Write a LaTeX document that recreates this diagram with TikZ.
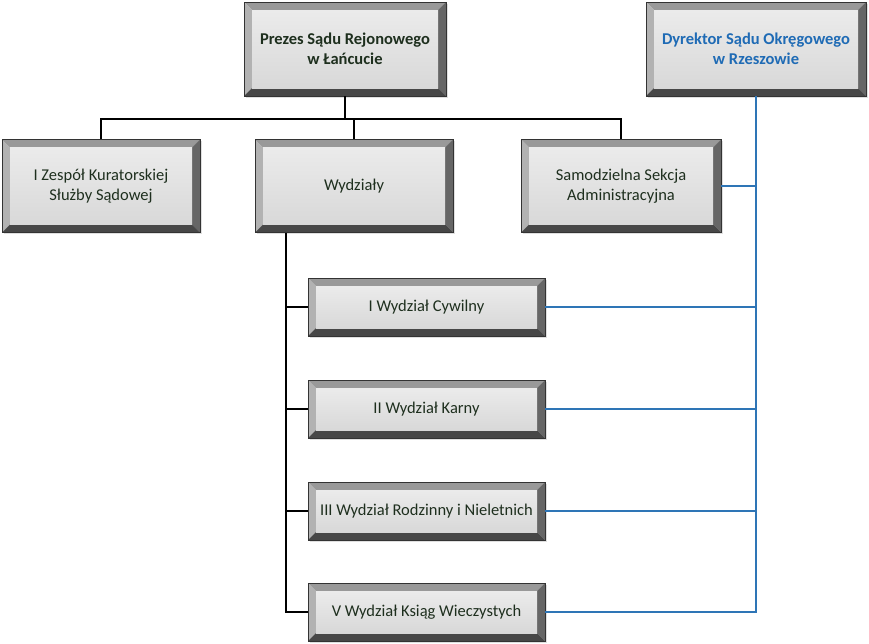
\documentclass[tikz,border=0pt]{standalone}
\usepackage{fontspec}
\setmainfont{Carlito}
\usetikzlibrary{shadows}
\definecolor{txt}{HTML}{1E2F1E}
\definecolor{bluetxt}{HTML}{1F6BB5}
\definecolor{blueln}{HTML}{2E75B6}
\definecolor{face}{HTML}{E6E6E6}
\newcommand{\bw}{8pt}
\tikzset{
  bevel/.style={draw=black!80, line width=0.7pt, fill=face, inner sep=0pt, align=center,
    text=txt, font=\fontsize{16.5}{19.5}\selectfont,
    drop shadow={shadow xshift=1.5pt, shadow yshift=-1.5pt, opacity=0.25},
    path picture={
      \fill[black!40] (path picture bounding box.north west) -- (path picture bounding box.north east)
        -- ([xshift=-\bw,yshift=-\bw]path picture bounding box.north east)
        -- ([xshift=\bw,yshift=-\bw]path picture bounding box.north west) -- cycle;
      \fill[black!30] (path picture bounding box.north west) -- (path picture bounding box.south west)
        -- ([xshift=\bw,yshift=\bw]path picture bounding box.south west)
        -- ([xshift=\bw,yshift=-\bw]path picture bounding box.north west) -- cycle;
      \fill[black!60] (path picture bounding box.north east) -- (path picture bounding box.south east)
        -- ([xshift=-\bw,yshift=\bw]path picture bounding box.south east)
        -- ([xshift=-\bw,yshift=-\bw]path picture bounding box.north east) -- cycle;
      \fill[black!72] (path picture bounding box.south west) -- (path picture bounding box.south east)
        -- ([xshift=-\bw,yshift=\bw]path picture bounding box.south east)
        -- ([xshift=\bw,yshift=\bw]path picture bounding box.south west) -- cycle;
      \shade[top color=face!80!white, bottom color=face!94!black]
        ([xshift=\bw,yshift=-\bw]path picture bounding box.north west) rectangle
        ([xshift=-\bw,yshift=\bw]path picture bounding box.south east);
    }},
  big/.style={bevel, minimum height=94pt},
  mid/.style={bevel, minimum height=93pt},
  small/.style={bevel, minimum height=58pt, minimum width=237pt},
  blk/.style={draw=black, line width=1.2pt},
  blu/.style={draw=blueln, line width=1.2pt}
}
\begin{document}
\begin{tikzpicture}[x=1pt,y=-1pt]
\useasboundingbox (0,0) rectangle (869,643);
\node[big, minimum width=202pt, font=\bfseries\fontsize{16.5}{19.5}\selectfont] (prezes) at (345,49) {Prezes Sądu Rejonowego\\w Łańcucie};
\node[big, minimum width=220pt, text=bluetxt, font=\bfseries\fontsize{16.5}{19.5}\selectfont] (dyr) at (756,49) {Dyrektor Sądu Okręgowego\\w Rzeszowie};
\node[mid, minimum width=198pt] (kur) at (101,186) {I Zespół Kuratorskiej\\Służby Sądowej};
\node[mid, minimum width=198pt] (wyd) at (354,186) {Wydziały};
\node[mid, minimum width=200pt] (sam) at (621,186) {Samodzielna Sekcja\\Administracyjna};
\node[small] (w1) at (426.5,307) {I Wydział Cywilny};
\node[small] (w2) at (426.5,409) {II Wydział Karny};
\node[small] (w3) at (426.5,511) {III Wydział Rodzinny i Nieletnich};
\node[small] (w4) at (426.5,612) {V Wydział Ksiąg Wieczystych};
\coordinate (bus) at (345,119);
\coordinate (wl) at (286,233);
% black connectors
\draw[blk] (prezes.south) -- (prezes.south |- bus);
\draw[blk] (kur.north) -- (kur.north |- bus) -- (sam.north |- bus) -- (sam.north);
\draw[blk] (wyd.north) -- (wyd.north |- bus);
\draw[blk] (wl) -- (wl |- w4) -- (w4.west);
\draw[blk] (w1.west) -- (w1.west -| wl);
\draw[blk] (w2.west) -- (w2.west -| wl);
\draw[blk] (w3.west) -- (w3.west -| wl);
% blue connectors
\draw[blu] (dyr.south) -- (dyr.south |- w4) -- (w4.east);
\draw[blu] (sam.east) -- (sam.east -| dyr.south);
\draw[blu] (w1.east) -- (w1.east -| dyr.south);
\draw[blu] (w2.east) -- (w2.east -| dyr.south);
\draw[blu] (w3.east) -- (w3.east -| dyr.south);
\end{tikzpicture}
\end{document}
